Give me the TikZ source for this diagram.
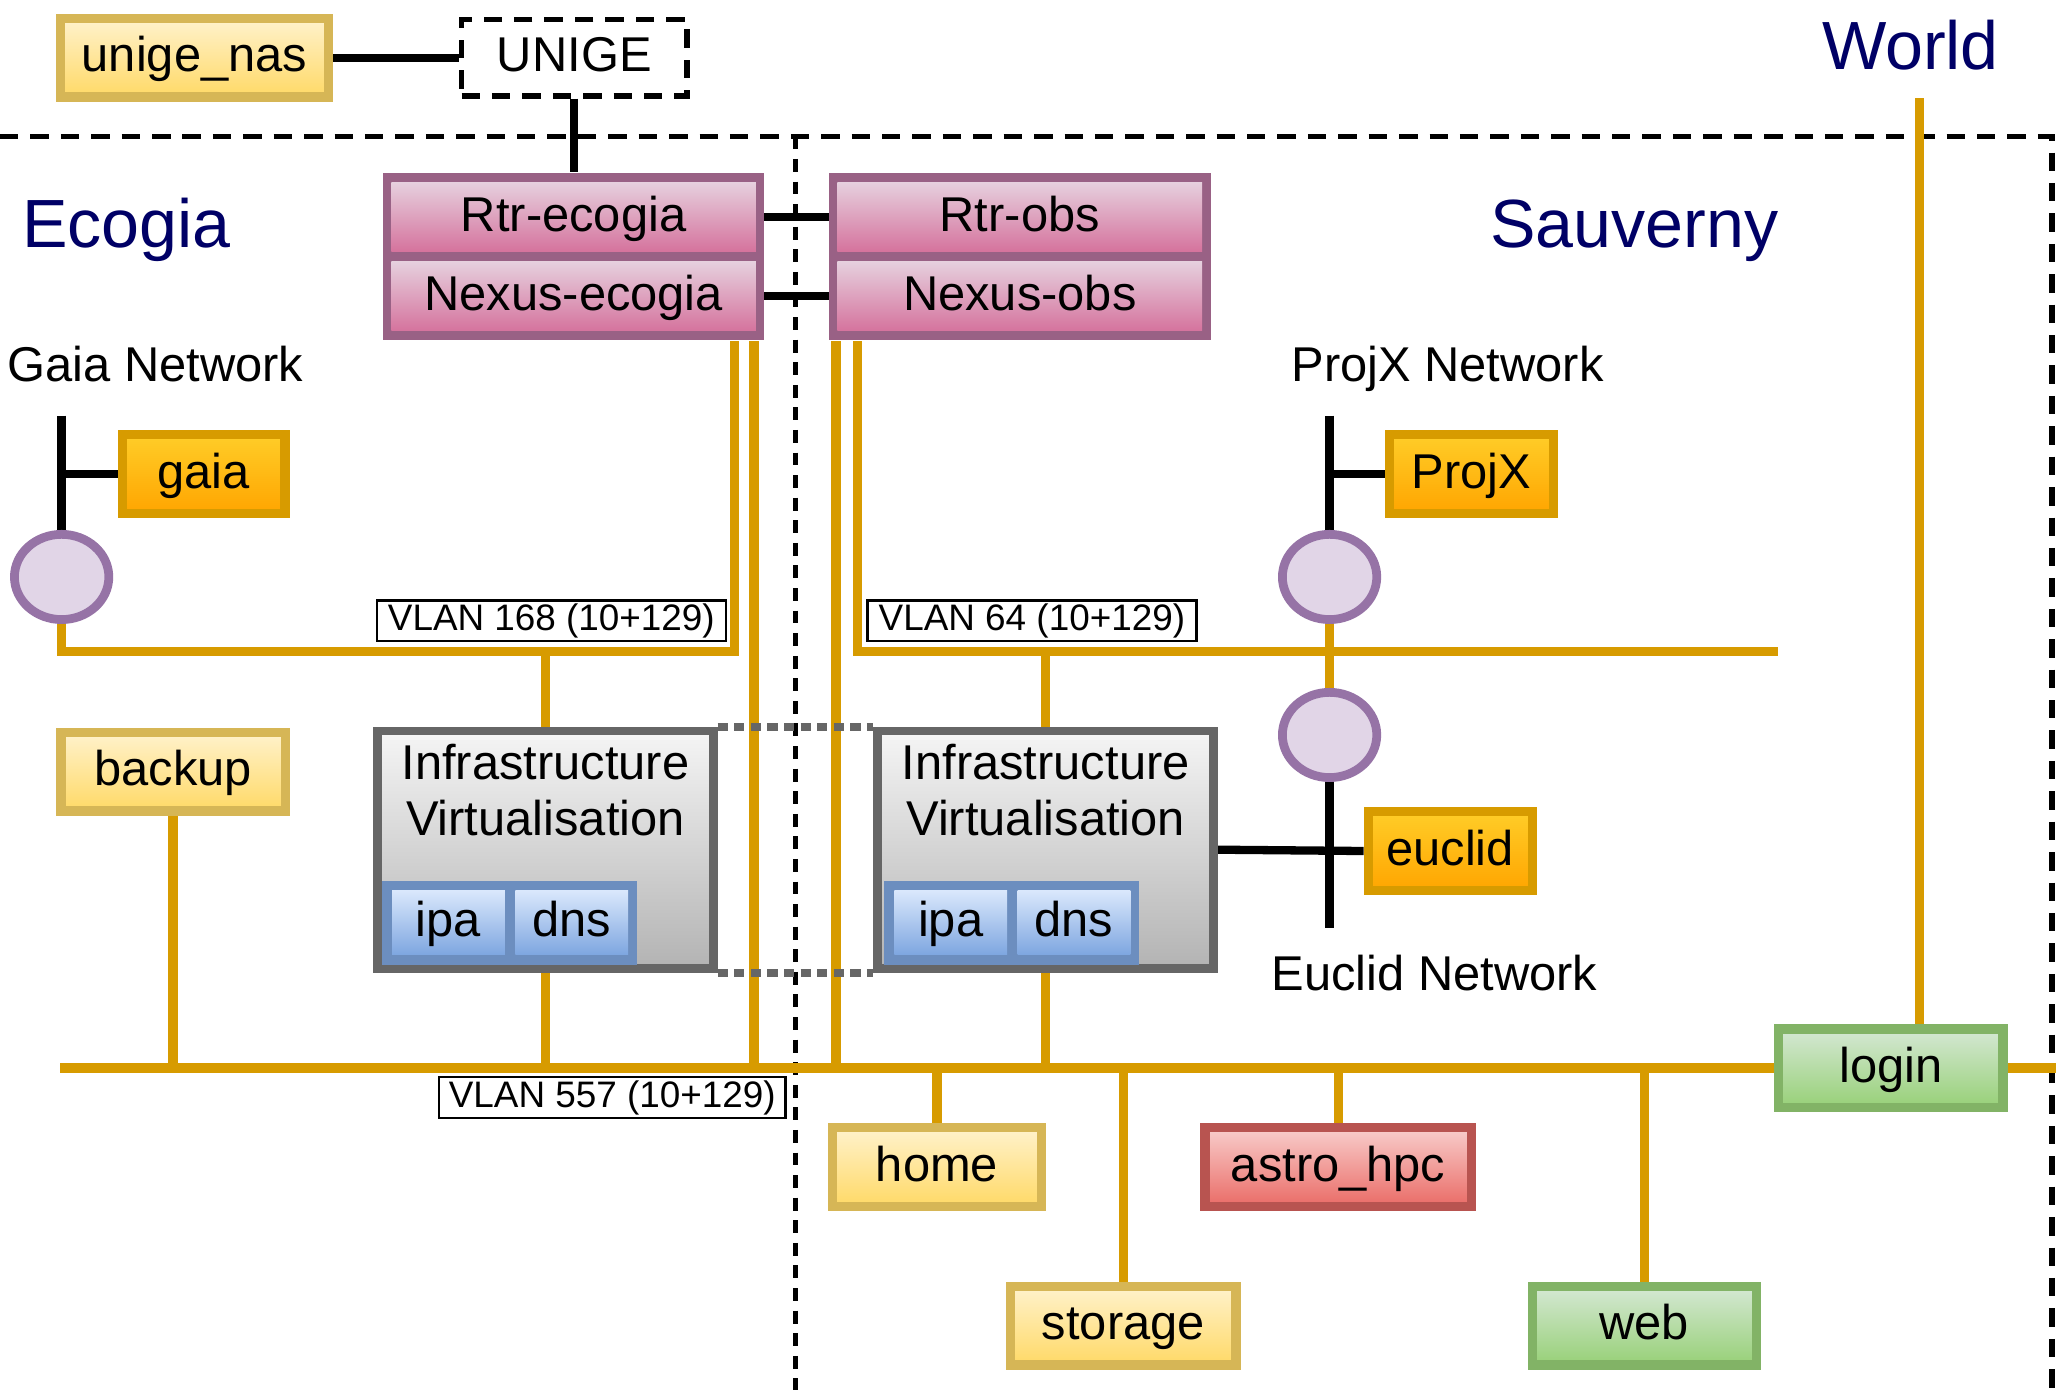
\documentclass[tikz,border=0pt]{standalone}
\usepackage{fontspec}
\setmainfont{Liberation Sans}
\usetikzlibrary{shapes.geometric,backgrounds}

\definecolor{ylwStroke}{HTML}{D6B656}
\definecolor{ylwTop}{HTML}{FFF2CC}
\definecolor{ylwBot}{HTML}{FFD966}
\definecolor{orgStroke}{HTML}{D79B00}
\definecolor{orgTop}{HTML}{FFCD28}
\definecolor{orgBot}{HTML}{FFA500}
\definecolor{pnkStroke}{HTML}{996185}
\definecolor{pnkTop}{HTML}{E6D0DE}
\definecolor{pnkBot}{HTML}{D5739D}
\definecolor{redStroke}{HTML}{B85450}
\definecolor{redTop}{HTML}{F8CECC}
\definecolor{redBot}{HTML}{EA6B66}
\definecolor{grnStroke}{HTML}{82B366}
\definecolor{grnTop}{HTML}{D5E8D4}
\definecolor{grnBot}{HTML}{97D077}
\definecolor{bluStroke}{HTML}{6C8EBF}
\definecolor{bluTop}{HTML}{DAE8FC}
\definecolor{bluBot}{HTML}{7EA6E0}
\definecolor{gryStroke}{HTML}{666666}
\definecolor{gryTop}{HTML}{F5F5F5}
\definecolor{gryBot}{HTML}{B3B3B3}
\definecolor{hubStroke}{HTML}{9673A6}
\definecolor{hubFill}{HTML}{E1D5E7}
\definecolor{siteBlue}{HTML}{000066}
\definecolor{wireOrange}{HTML}{D79B00}

\newcommand\netfont{\fontsize{10.6}{12.3}\selectfont}
\newcommand\sitefont{\fontsize{14.8}{17}\selectfont}
\newcommand\vlanfont{\fontsize{8}{9}\selectfont}

\tikzset{
	host/.style={line width=2pt, inner sep=0pt, minimum height=6mm, font=\netfont, text height=8pt, text depth=1.8pt},
	yellowhost/.style={host, draw=ylwStroke, top color=ylwTop, bottom color=ylwBot},
	orangehost/.style={host, draw=orgStroke, top color=orgTop, bottom color=orgBot},
	redhost/.style={host, draw=redStroke, top color=redTop, bottom color=redBot},
	greenhost/.style={host, draw=grnStroke, top color=grnTop, bottom color=grnBot},
	rtrframe/.style={fill=pnkStroke, inner sep=0pt, minimum width=29.1mm, minimum height=12.7mm},
	router/.style={inner sep=0pt, top color=pnkTop, bottom color=pnkBot, minimum width=27.8mm, minimum height=5.3mm, font=\netfont, text height=8pt, text depth=1.8pt},
	infra/.style={draw=gryStroke, line width=1.9pt, top color=gryTop, bottom color=gryBot, minimum width=25.6mm, minimum height=18.1mm, inner sep=0pt},
	infratext/.style={font=\netfont, align=center, inner sep=0pt, anchor=north},
	vmgroup/.style={fill=bluStroke, minimum width=19.5mm, minimum height=6.4mm, inner sep=0pt},
	vm/.style={top color=bluTop, bottom color=bluBot, minimum width=8.6mm, minimum height=4.9mm, inner sep=0pt, font=\netfont, text height=8pt, text depth=1.8pt},
	hub/.style={ellipse, draw=hubStroke, fill=hubFill, line width=1.9pt, minimum width=7.2mm, minimum height=6.5mm, inner sep=0pt},
	site/.style={font=\sitefont, text=siteBlue, inner sep=0pt, anchor=base},
	netname/.style={font=\netfont, inner sep=0pt, anchor=base},
	vlan/.style={draw, line width=0.5pt, fill=white, font=\vlanfont, inner sep=0pt, minimum height=3.1mm},
	wire/.style={draw=wireOrange, line width=2pt},
	tie/.style={draw=black, line width=1.8pt},
	zone/.style={draw=black, line width=1.2pt, dash pattern=on 4pt off 2.6pt},
	divider/.style={draw=black, line width=1.1pt, dash pattern=on 2.8pt off 2.1pt},
	vmlink/.style={draw=gryStroke, line width=1.8pt, dash pattern=on 2.2pt off 1.4pt}
}

\begin{document}
\begin{tikzpicture}[x=0.1mm, y=-0.1mm]
	\useasboundingbox (0,0) rectangle (1568,1060);

	\node[site] (ecogia) at (96.5,189) {Ecogia};
	\node[site] (sauverny) at (1246.4,189) {Sauverny};
	\node[site] (world) at (1457,53) {World};

	\node[yellowhost, minimum width=20.4mm] (unigenas) at (148.3,44) {unige\_nas};
	\node[draw, line width=1.2pt, dash pattern=on 4pt off 2.6pt, inner sep=0pt, minimum width=17.2mm, minimum height=5.8mm, font=\netfont, text height=8pt, text depth=1.8pt] (unige) at (438,44) {UNIGE};

	\node[rtrframe] (ecogiaR) at (437.5,195.5) {};
	\node[router] (rtrE) at (437.5,165.3) {Rtr-ecogia};
	\node[router] (nexE) at (437.5,225.9) {Nexus-ecogia};
	\node[rtrframe] (obsR) at (777.7,195.5) {};
	\node[router] (rtrO) at (777.7,165.3) {Rtr-obs};
	\node[router] (nexO) at (777.7,225.9) {Nexus-obs};

	\node[netname] (gaianet) at (118.5,291) {Gaia Network};
	\node[netname] (projxnet) at (1104,291) {ProjX Network};
	\node[netname] (euclidnet) at (1094,755.6) {Euclid Network};

	\node[orangehost, minimum width=12.4mm] (gaia) at (155.4,361.5) {gaia};
	\node[orangehost, minimum width=12.5mm] (projx) at (1122,361.6) {ProjX};
	\node[orangehost, minimum width=12.5mm] (euclid) at (1106,649) {euclid};

	\node[hub] (gaiaC) at (47,440) {};
	\node[hub] (projxC) at (1014,440) {};
	\node[hub] (euclidC) at (1014,560.5) {};

	\node[vlan, minimum width=26.6mm] (vlan168) at (420.5,473.5) {VLAN 168 (10+129)};
	\node[vlan, minimum width=25.1mm] (vlan64) at (787,473.5) {VLAN 64 (10+129)};
	\node[vlan, minimum width=26.4mm] (vlan557) at (467,837) {VLAN 557 (10+129)};

	\node[infra] (infraE) at (416,648) {};
	\node[infratext] (infraEtxt) at (416,566.5) {Infrastructure\\Virtualisation};
	\node[vmgroup] (vmsE) at (388.5,704) {};
	\node[vm] (ipaE) at (342,703.5) {ipa};
	\node[vm] (dnsE) at (436,703.5) {dns};

	\node[infra] (infraO) at (797.5,648) {};
	\node[infratext] (infraOtxt) at (797.5,566.5) {Infrastructure\\Virtualisation};
	\node[vmgroup] (vmsO) at (771.5,704) {};
	\node[vm] (ipaO) at (725,703.5) {ipa};
	\node[vm] (dnsO) at (819,703.5) {dns};

	\node[yellowhost, minimum width=17.1mm] (backup) at (132,588.5) {backup};
	\node[yellowhost, minimum width=15.9mm] (home) at (714.6,890) {home};
	\node[yellowhost, minimum width=17.2mm] (storage) at (856.7,1011) {storage};
	\node[redhost, minimum width=20.3mm] (astro) at (1020.5,890) {astro\_hpc};
	\node[greenhost, minimum width=17.1mm] (web) at (1254,1011) {web};
	\node[greenhost, minimum width=17.1mm] (login) at (1442,814.7) {login};

	\begin{scope}[on background layer]
		\fill[white] (0,0) rectangle (1568,1060);
		\draw[zone] (0,104) -- (1565,104) -- (1565,1060);
		\draw[divider] (607,104) -- (607,1060);

		\coordinate (v168W) at (47,497);
		\coordinate (v168E) at (560,497);
		\coordinate (v64W) at (654,497);
		\coordinate (v64E) at (1355.6,497);
		\coordinate (busW) at (46,814.5);
		\coordinate (busE) at (1568,814.5);
		\coordinate (upE) at (575,814.5);
		\coordinate (upO) at (637.5,814.5);
		\coordinate (worldTap) at (1464,75);
		\coordinate (gaiaTop) at (47,317);
		\coordinate (projxTop) at (1014,317);
		\coordinate (euclidBot) at (1014,708);

		\draw[tie] (unigenas) -- (unige);
		\draw[tie] (unige.south) -- (unige.south |- ecogiaR.north);
		\draw[tie] (rtrE.east) -- (rtrO.west);
		\draw[tie] (nexE.east) -- (nexO.west);
		\draw[tie] (gaiaTop) -- (gaiaC.north);
		\draw[tie] (gaiaTop |- gaia.west) -- (gaia.west);
		\draw[tie] (projxTop) -- (projxC.north);
		\draw[tie] (projxTop |- projx.west) -- (projx.west);
		\draw[tie] (euclidC.south) -- (euclidBot);
		\draw[tie] (infraO.east) -- (euclid.west);

		\draw[wire] (gaiaC.south) -- (v168W) -- (v168E) -- (v168E |- ecogiaR.south);
		\draw[wire] (v64E) -- (v64W) -- (v64W |- obsR.south);
		\draw[wire] (upE) -- (upE |- ecogiaR.south);
		\draw[wire] (upO) -- (upO |- obsR.south);
		\draw[wire] (projxC.south) -- (euclidC.north);
		\draw[wire] (infraE.north) -- (infraE.north |- v168W);
		\draw[wire] (infraO.north) -- (infraO.north |- v64W);
		\draw[wire] (busW) -- (busE);
		\draw[wire] (infraE.south) -- (infraE.south |- busW);
		\draw[wire] (infraO.south) -- (infraO.south |- busW);
		\draw[wire] (backup.south) -- (backup.south |- busW);
		\draw[wire] (home.north) -- (home.north |- busW);
		\draw[wire] (storage.north) -- (storage.north |- busW);
		\draw[wire] (astro.north) -- (astro.north |- busW);
		\draw[wire] (web.north) -- (web.north |- busW);
		\draw[wire] (worldTap) -- (worldTap |- login.north);

		\draw[vmlink] (infraE.north east) -- (infraO.north west);
		\draw[vmlink] (infraE.south east) -- (infraO.south west);
	\end{scope}
\end{tikzpicture}
\end{document}
